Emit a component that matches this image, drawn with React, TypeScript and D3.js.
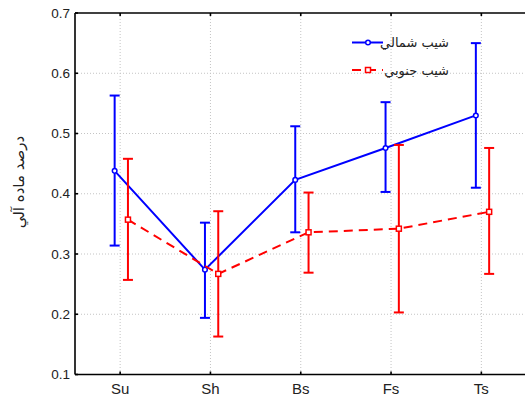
import * as d3 from "d3";
import { useEffect, useRef } from "react";

const categories = ["Su", "Sh", "Bs", "Fs", "Ts"];
const northMean = [0.438, 0.274, 0.423, 0.476, 0.53];
const northUpper = [0.563, 0.352, 0.512, 0.552, 0.65];
const northLower = [0.314, 0.194, 0.336, 0.403, 0.41];
const southMean = [0.357, 0.267, 0.336, 0.342, 0.37];
const southUpper = [0.458, 0.371, 0.402, 0.481, 0.476];
const southLower = [0.257, 0.163, 0.269, 0.203, 0.267];
const yTicks = [0.1, 0.2, 0.3, 0.4, 0.5, 0.6, 0.7];
const seriesNames = ["شیب شمالي", "شیب جنوبي"];
const yLabel = "درصد ماده آلي";

const App = () => {
  const ref = useRef<SVGSVGElement>(null);

  useEffect(() => {
    const width = 525;
    const left = 75,
      top = 13,
      bottom = 374.5;
    const svg = d3.select(ref.current);
    svg.selectAll("*").remove();

    const x = d3.scalePoint().domain(categories).range([left, 526.5]).padding(0.5);
    const y = d3.scaleLinear().domain([0.1, 0.7]).range([bottom, top]);

    // grid
    const grid = svg.append("g").attr("stroke", "#c4c4c4").attr("stroke-dasharray", "1,2");
    grid
      .selectAll("line.h")
      .data(yTicks.slice(1, -1))
      .join("line")
      .attr("x1", left)
      .attr("x2", width)
      .attr("y1", (d) => y(d))
      .attr("y2", (d) => y(d));
    grid
      .selectAll("line.v")
      .data(categories)
      .join("line")
      .attr("x1", (d) => x(d)!)
      .attr("x2", (d) => x(d)!)
      .attr("y1", top)
      .attr("y2", bottom);

    // axes frame
    const axis = svg.append("g").attr("stroke", "#000").attr("stroke-width", 1.6);
    axis.append("line").attr("x1", left).attr("x2", width).attr("y1", bottom).attr("y2", bottom);
    axis.append("line").attr("x1", left).attr("x2", width).attr("y1", top).attr("y2", top);
    axis.append("line").attr("x1", left).attr("x2", left).attr("y1", top).attr("y2", bottom);
    axis
      .selectAll("line.yt")
      .data(yTicks)
      .join("line")
      .attr("x1", left)
      .attr("x2", left + 3)
      .attr("y1", (d) => y(d))
      .attr("y2", (d) => y(d));
    categories.forEach((c) => {
      axis.append("line").attr("x1", x(c)!).attr("x2", x(c)!).attr("y1", bottom).attr("y2", bottom - 3);
      axis.append("line").attr("x1", x(c)!).attr("x2", x(c)!).attr("y1", top).attr("y2", top + 3);
    });

    const font = "'Liberation Sans', Arial, sans-serif";
    svg
      .append("g")
      .selectAll("text")
      .data(yTicks)
      .join("text")
      .attr("x", left - 5)
      .attr("y", (d) => y(d))
      .attr("dy", "0.35em")
      .attr("text-anchor", "end")
      .attr("font-family", font)
      .attr("font-size", 13.5)
      .attr("fill", "#222")
      .text((d) => d.toFixed(1));
    svg
      .append("g")
      .selectAll("text")
      .data(categories)
      .join("text")
      .attr("x", (d) => x(d)!)
      .attr("y", 394)
      .attr("text-anchor", "middle")
      .attr("font-family", font)
      .attr("font-size", 15)
      .attr("fill", "#222")
      .text((d) => d);

    svg
      .append("text")
      .attr("transform", `translate(24,182) rotate(-90)`)
      .attr("text-anchor", "middle")
      .attr("font-family", "'DejaVu Sans', sans-serif")
      .attr("font-size", 15)
      .attr("fill", "#222")
      .text(yLabel);

    const series = [
      { mean: northMean, upper: northUpper, lower: northLower, color: "#0000ff", dx: -5.5, dash: null, marker: "circle" },
      { mean: southMean, upper: southUpper, lower: southLower, color: "#ff0000", dx: 7.8, dash: "9,6", marker: "square" },
    ];

    series.forEach((s) => {
      const g = svg.append("g");
      const px = (i: number) => x(categories[i])! + s.dx;
      // error bars
      categories.forEach((_, i) => {
        const eb = g.append("g").attr("stroke", s.color).attr("stroke-width", 2);
        eb.append("line").attr("x1", px(i)).attr("x2", px(i)).attr("y1", y(s.upper[i])).attr("y2", y(s.lower[i]));
        eb.append("line").attr("x1", px(i) - 5).attr("x2", px(i) + 5).attr("y1", y(s.upper[i])).attr("y2", y(s.upper[i]));
        eb.append("line").attr("x1", px(i) - 5).attr("x2", px(i) + 5).attr("y1", y(s.lower[i])).attr("y2", y(s.lower[i]));
      });
      const line = d3
        .line<number>()
        .x((_, i) => px(i))
        .y((d) => y(d));
      g.append("path")
        .attr("d", line(s.mean))
        .attr("fill", "none")
        .attr("stroke", s.color)
        .attr("stroke-width", 2)
        .attr("stroke-dasharray", s.dash);
      s.mean.forEach((v, i) => {
        if (s.marker === "circle") {
          g.append("circle").attr("cx", px(i)).attr("cy", y(v)).attr("r", 2.3).attr("fill", "#fff").attr("stroke", s.color).attr("stroke-width", 1.5);
        } else {
          g.append("rect").attr("x", px(i) - 2.5).attr("y", y(v) - 2.5).attr("width", 5).attr("height", 5).attr("fill", "#fff").attr("stroke", s.color).attr("stroke-width", 1.5);
        }
      });
    });

    // legend
    const legend = svg.append("g");
    const ly = [42.5, 70];
    series.forEach((s, i) => {
      legend.append("line").attr("x1", 352).attr("x2", 383).attr("y1", ly[i]).attr("y2", ly[i]).attr("stroke", s.color).attr("stroke-width", 2).attr("stroke-dasharray", s.dash);
      if (s.marker === "circle") {
        legend.append("circle").attr("cx", 368).attr("cy", ly[i]).attr("r", 2.3).attr("fill", "#fff").attr("stroke", s.color).attr("stroke-width", 1.5);
      } else {
        legend.append("rect").attr("x", 365.5).attr("y", ly[i] - 2.5).attr("width", 5).attr("height", 5).attr("fill", "#fff").attr("stroke", s.color).attr("stroke-width", 1.5);
      }
      legend
        .append("text")
        .attr("x", 449)
        .attr("y", ly[i])
        .attr("dy", "0.35em")
        .attr("text-anchor", "end")
        .attr("font-family", "'DejaVu Sans', sans-serif")
        .attr("font-size", 13)
        .attr("fill", "#222")
        .text(seriesNames[i]);
    });
  }, []);

  return (
    <svg
      ref={ref}
      width={525}
      height={401}
      style={{ position: "absolute", left: 0, top: 0, background: "#fff" }}
    />
  );
};

export default App;
